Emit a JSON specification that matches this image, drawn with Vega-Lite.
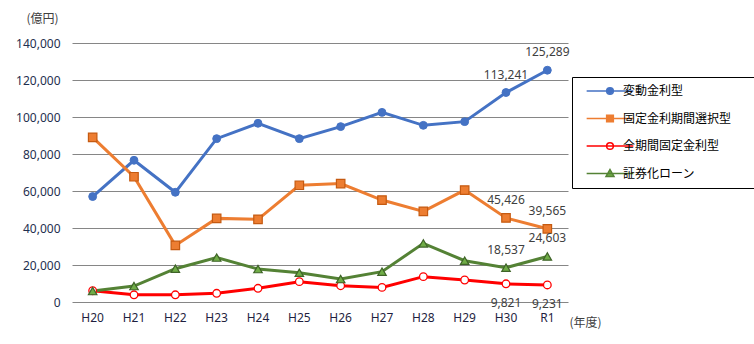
{
  "$schema": "https://vega.github.io/schema/vega-lite/v6.json",
  "width": 496,
  "height": 259,
  "autosize": {"type": "none"},
  "padding": {"left": 72, "top": 43, "right": 186, "bottom": 42},
  "background": "white",
  "config": {
    "view": {"stroke": null},
    "font": "Noto Sans",
    "axis": {"labelFont": "Noto Sans", "labelFontSize": 12, "labelColor": "#404040", "titleFont": "Noto Sans CJK JP", "titleFontSize": 12, "titleFontWeight": "normal", "titleColor": "#404040"}
  },
  "data": {
    "values": [
      {"year": "H20", "series": "変動金利型", "value": 57000},
      {"year": "H21", "series": "変動金利型", "value": 76600},
      {"year": "H22", "series": "変動金利型", "value": 59300},
      {"year": "H23", "series": "変動金利型", "value": 88300},
      {"year": "H24", "series": "変動金利型", "value": 96600},
      {"year": "H25", "series": "変動金利型", "value": 88300},
      {"year": "H26", "series": "変動金利型", "value": 94800},
      {"year": "H27", "series": "変動金利型", "value": 102500},
      {"year": "H28", "series": "変動金利型", "value": 95500},
      {"year": "H29", "series": "変動金利型", "value": 97500},
      {"year": "H30", "series": "変動金利型", "value": 113241},
      {"year": "R1", "series": "変動金利型", "value": 125289},
      {"year": "H20", "series": "固定金利期間選択型", "value": 89000},
      {"year": "H21", "series": "固定金利期間選択型", "value": 67700},
      {"year": "H22", "series": "固定金利期間選択型", "value": 30600},
      {"year": "H23", "series": "固定金利期間選択型", "value": 45200},
      {"year": "H24", "series": "固定金利期間選択型", "value": 44700},
      {"year": "H25", "series": "固定金利期間選択型", "value": 63100},
      {"year": "H26", "series": "固定金利期間選択型", "value": 64000},
      {"year": "H27", "series": "固定金利期間選択型", "value": 55100},
      {"year": "H28", "series": "固定金利期間選択型", "value": 49000},
      {"year": "H29", "series": "固定金利期間選択型", "value": 60500},
      {"year": "H30", "series": "固定金利期間選択型", "value": 45426},
      {"year": "R1", "series": "固定金利期間選択型", "value": 39565},
      {"year": "H20", "series": "全期間固定金利型", "value": 6100},
      {"year": "H21", "series": "全期間固定金利型", "value": 3900},
      {"year": "H22", "series": "全期間固定金利型", "value": 3900},
      {"year": "H23", "series": "全期間固定金利型", "value": 4700},
      {"year": "H24", "series": "全期間固定金利型", "value": 7400},
      {"year": "H25", "series": "全期間固定金利型", "value": 11000},
      {"year": "H26", "series": "全期間固定金利型", "value": 8800},
      {"year": "H27", "series": "全期間固定金利型", "value": 7900},
      {"year": "H28", "series": "全期間固定金利型", "value": 13700},
      {"year": "H29", "series": "全期間固定金利型", "value": 11900},
      {"year": "H30", "series": "全期間固定金利型", "value": 9821},
      {"year": "R1", "series": "全期間固定金利型", "value": 9231},
      {"year": "H20", "series": "証券化ローン", "value": 5900},
      {"year": "H21", "series": "証券化ローン", "value": 8600},
      {"year": "H22", "series": "証券化ローン", "value": 18000},
      {"year": "H23", "series": "証券化ローン", "value": 24000},
      {"year": "H24", "series": "証券化ローン", "value": 17800},
      {"year": "H25", "series": "証券化ローン", "value": 15800},
      {"year": "H26", "series": "証券化ローン", "value": 12400},
      {"year": "H27", "series": "証券化ローン", "value": 16400},
      {"year": "H28", "series": "証券化ローン", "value": 31700},
      {"year": "H29", "series": "証券化ローン", "value": 22300},
      {"year": "H30", "series": "証券化ローン", "value": 18537},
      {"year": "R1", "series": "証券化ローン", "value": 24603}
    ]
  },
  "encoding": {
    "x": {
      "field": "year", "type": "ordinal",
      "sort": ["H20","H21","H22","H23","H24","H25","H26","H27","H28","H29","H30","R1"],
      "scale": {"type": "band", "paddingInner": 0, "paddingOuter": 0},
      "axis": {"labelAngle": 0, "ticks": false, "tickSize": 0, "domain": false, "grid": false, "labelPadding": 10, "labelColor": "#1f1f3f",
        "title": "(年度)", "titleAngle": 0, "titleX": 497, "titleY": 20, "titleAlign": "left", "titleBaseline": "middle"}
    },
    "y": {
      "field": "value", "type": "quantitative",
      "scale": {"domain": [0, 140000], "nice": false},
      "axis": {"values": [0,20000,40000,60000,80000,100000,120000,140000], "labelExpr": "format(datum.value, ',')", "ticks": false, "tickSize": 0, "domain": false, "labelPadding": 12,
        "gridColor": "#868686", "gridWidth": 1, "labelColor": "#1f2f4f",
        "title": "(億円)", "titleAngle": 0, "titleX": -30, "titleY": -25, "titleAlign": "center", "titleBaseline": "middle"}
    }
  },
  "layer": [
    {
      "mark": {"type": "point", "filled": true, "size": 36, "strokeWidth": 2.5, "opacity": 0},
      "encoding": {
        "shape": {"field": "series", "type": "nominal",
          "scale": {"domain": ["変動金利型","固定金利期間選択型","全期間固定金利型","証券化ローン"],
            "range": ["M-8.6,0M43.9,0M-4.67,0H4.67M0.67,0A0.67,0.67,0,1,1,-0.67,0A0.67,0.67,0,1,1,0.67,0Z", "M-8.6,0M43.9,0M-4.67,0H4.67M-0.67,-0.67H0.67V0.67H-0.67Z", "M-8.6,0M43.9,0M-4.67,0H4.67M0.67,0A0.67,0.67,0,1,1,-0.67,0A0.67,0.67,0,1,1,0.67,0Z", "M-8.6,0M43.9,0M-4.67,0H4.67M0,-0.8L0.8,0.6H-0.8Z"]},
          "legend": {
            "title": null, "orient": "none", "legendX": 500, "legendY": 34,
            "strokeColor": "#000000", "padding": 8, "fillColor": "white",
            "labelFont": "Noto Sans CJK JP", "labelFontSize": 12, "labelColor": "#000000",
            "symbolOffset": 24, "labelOffset": 7, "rowPadding": 13.5, "symbolOpacity": 1,
            "encode": {"symbols": {"update": {"opacity": {"value": 1}}}}
          }
        },
        "fill": {"field": "series", "type": "nominal",
          "scale": {"domain": ["変動金利型","固定金利期間選択型","全期間固定金利型","証券化ローン"], "range": ["#4472C4","#ED7D31","#FFFFFF","#70AD47"]}},
        "stroke": {"field": "series", "type": "nominal",
          "scale": {"domain": ["変動金利型","固定金利期間選択型","全期間固定金利型","証券化ローン"], "range": ["#4472C4","#ED7D31","#FF0000","#548235"]}}
      }
    },
    {
      "mark": {"type": "line", "strokeWidth": 3},
      "encoding": {
        "color": {
          "field": "series", "type": "nominal", "legend": null,
          "scale": {"domain": ["変動金利型","固定金利期間選択型","全期間固定金利型","証券化ローン"], "range": ["#4472C4","#ED7D31","#FF0000","#548235"]}
        }
      }
    },
    {
      "transform": [{"filter": "datum.series === '変動金利型'"}],
      "mark": {"type": "point", "shape": "circle", "filled": true, "fill": "#4472C4", "stroke": "#4472C4", "strokeWidth": 1, "size": 62, "opacity": 1}
    },
    {
      "transform": [{"filter": "datum.series === '固定金利期間選択型'"}],
      "mark": {"type": "point", "shape": "square", "filled": true, "fill": "#ED7D31", "stroke": "#C55A11", "strokeWidth": 1.2, "size": 72, "opacity": 1}
    },
    {
      "transform": [{"filter": "datum.series === '全期間固定金利型'"}],
      "mark": {"type": "point", "shape": "circle", "filled": true, "fill": "#FFFFFF", "stroke": "#FF0000", "strokeWidth": 1.3, "size": 58, "opacity": 1}
    },
    {
      "transform": [{"filter": "datum.series === '証券化ローン'"}],
      "mark": {"type": "point", "shape": "triangle-up", "filled": true, "fill": "#70AD47", "stroke": "#3F6428", "strokeWidth": 1.2, "size": 72, "opacity": 1}
    },
    {
      "transform": [{"filter": "(datum.year === 'H30' || datum.year === 'R1') && datum.series !== '全期間固定金利型'"}],
      "mark": {"type": "text", "dy": -18, "fontSize": 12, "font": "Noto Sans", "color": "#404040"},
      "encoding": {"text": {"field": "value", "type": "quantitative", "format": ","}}
    },
    {
      "transform": [{"filter": "(datum.year === 'H30' || datum.year === 'R1') && datum.series === '全期間固定金利型'"}],
      "mark": {"type": "text", "dy": 19, "fontSize": 12, "font": "Noto Sans", "color": "#404040"},
      "encoding": {"text": {"field": "value", "type": "quantitative", "format": ","}}
    }
  ]
}
